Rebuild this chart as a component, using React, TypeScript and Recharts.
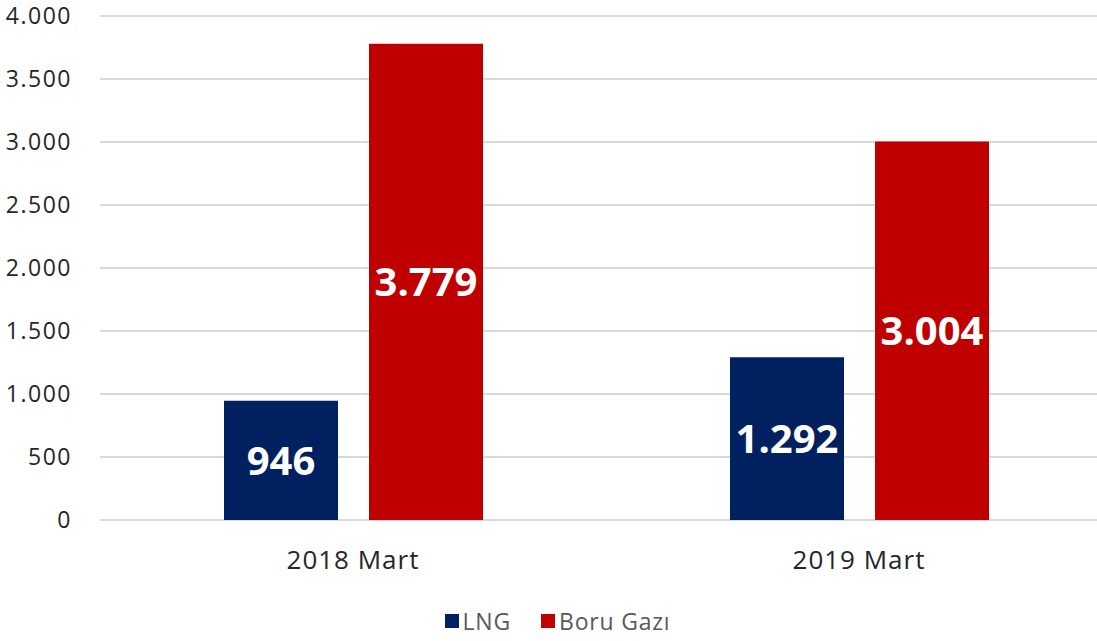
import { BarChart, Bar, XAxis, YAxis, CartesianGrid, Legend, LabelList } from "recharts";

const categories = ["2018 Mart", "2019 Mart"];
const lngValues = [946, 1292];
const boruValues = [3779, 3004];
const yTicks = [0, 500, 1000, 1500, 2000, 2500, 3000, 3500, 4000];

const seriesNames = ["LNG", "Boru Gazı"];
const seriesColors = ["#002060", "#C00000"];

const data = categories.map((c, i) => ({ name: c, lng: lngValues[i], boru: boruValues[i] }));

// turkish style thousands separator
const fmt = (v: number) => v.toLocaleString("tr-TR");

const font = "'Open Sans', sans-serif";

function LegendBox() {
  return (
    <div style={{ display: "flex", justifyContent: "center", alignItems: "center", fontFamily: font, fontSize: 23, lineHeight: "26px", color: "#595959", letterSpacing: 0.8, paddingLeft: 18 }}>
      {seriesNames.map((n, i) => (
        <div key={n} style={{ display: "flex", alignItems: "center", marginRight: i === 0 ? 30 : 0 }}>
          <span style={{ display: "inline-block", width: 14, height: 14, background: seriesColors[i], marginRight: 4 }} />
          <span>{n}</span>
        </div>
      ))}
    </div>
  );
}

export default function App() {
  return (
    <div style={{ position: "absolute", left: 0, top: 0, width: 1097, height: 641, overflow: "hidden", background: "#fff" }}>
      <BarChart
        width={1112}
        height={641}
        data={data}
        margin={{ top: 16, right: 0, left: 0, bottom: 0 }}
        barSize={114}
        barGap={31}
      >
        <CartesianGrid vertical={false} stroke="#d9d9d9" strokeWidth={2} />
        <XAxis
          dataKey="name"
          axisLine={false}
          tickLine={false}
          tickSize={0}
          tickMargin={31}
          height={91}
          tick={{ fill: "#262626", fontSize: 26, fontFamily: font, letterSpacing: 1 }}
        />
        <YAxis
          width={100}
          domain={[0, 4000]}
          ticks={yTicks}
          interval={0}
          axisLine={false}
          tickLine={false}
          tickSize={0}
          tickMargin={28}
          tickFormatter={fmt}
          tick={{ fill: "#262626", fontSize: 23, fontFamily: font, letterSpacing: 1.5 }}
        />
        <Legend
          verticalAlign="bottom"
          height={30}
          wrapperStyle={{ left: 0, width: 1097, bottom: 3 }}
          content={() => <LegendBox />}
        />
        <Bar dataKey="lng" name={seriesNames[0]} fill={seriesColors[0]} isAnimationActive={false}>
          <LabelList dataKey="lng" position="center" formatter={fmt} fill="#fff" fontSize={40} fontWeight={700} fontFamily={font} />
        </Bar>
        <Bar dataKey="boru" name={seriesNames[1]} fill={seriesColors[1]} isAnimationActive={false}>
          <LabelList dataKey="boru" position="center" formatter={fmt} fill="#fff" fontSize={40} fontWeight={700} fontFamily={font} />
        </Bar>
      </BarChart>
    </div>
  );
}
